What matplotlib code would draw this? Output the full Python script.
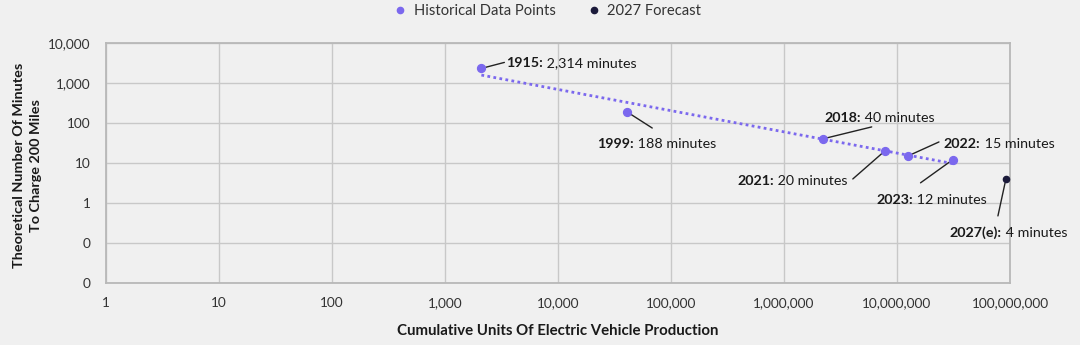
import matplotlib
matplotlib.use('Agg')
import matplotlib.pyplot as plt
import numpy as np
from matplotlib.ticker import FuncFormatter, NullLocator
from matplotlib.lines import Line2D

plt.rcParams['font.family'] = ['Lato', 'DejaVu Sans']

# Historical data (cumulative EV units vs minutes to charge 200 miles)
hist_years = ['1915', '1999', '2018', '2021', '2022', '2023']
hist_units = [2100, 41000, 2.2e6, 7.8e6, 1.25e7, 3.1e7]
hist_minutes = [2314, 188, 40, 20, 15, 12]
hist_labels = ['2,314 minutes', '188 minutes', '40 minutes', '20 minutes',
               '15 minutes', '12 minutes']

# Forecast
fc_year = '2027(e)'
fc_units = [9.2e7]
fc_minutes = [4]
fc_label = '4 minutes'

x_ticks = [1, 10, 100, 1e3, 1e4, 1e5, 1e6, 1e7, 1e8]
y_ticks = [0.01, 0.1, 1, 10, 100, 1e3, 1e4]

BG = '#F0F0F0'
PURPLE = '#7B68EE'
NAVY = '#1B1A3A'
GRID = '#C8C8C8'
TXT = '#1A1A1A'

fig = plt.figure(figsize=(10.8, 3.45), dpi=100)
fig.patch.set_facecolor(BG)
ax = fig.add_axes([0.0981, 0.1797, 0.8371, 0.6957])
ax.set_facecolor(BG)

ax.set_xscale('log')
ax.set_yscale('log')
ax.set_xlim(1, 1e8)
ax.set_ylim(0.01, 10000)
ax.set_xticks(x_ticks)
ax.set_yticks(y_ticks)
ax.xaxis.set_minor_locator(NullLocator())
ax.yaxis.set_minor_locator(NullLocator())
fmt = FuncFormatter(lambda v, p: f"{v:,.0f}")
ax.xaxis.set_major_formatter(fmt)
ax.yaxis.set_major_formatter(fmt)
ax.tick_params(length=0, labelsize=9.8, labelcolor='#333333', pad=11)
ax.tick_params(axis='x', pad=10)
ax.grid(True, color=GRID, lw=1)
ax.set_axisbelow(True)
for s in ax.spines.values():
    s.set_color('#B8B8B8')
    s.set_linewidth(1.3)

# power-law trendline through historical points
lx = np.log10(hist_units)
ly = np.log10(hist_minutes)
slope, icpt = np.polyfit(lx, ly, 1)
tx = np.linspace(lx.min(), lx.max(), 50)
ax.plot(10 ** tx, 10 ** (icpt + slope * tx), color=PURPLE, lw=2,
        linestyle=(0, (1, 1.2)), zorder=3)

ax.scatter(hist_units, hist_minutes, s=32, color=PURPLE, zorder=4)
ax.scatter(fc_units, fc_minutes, s=20, color=NAVY, zorder=4)

# annotation offsets in pixels: (line end), (text left/center-y)
line_off = [(23, 6), (25, -16), (49, 12), (-32, -28), (31, 14), (-32, -23)]
text_off = [(25, 5), (-30, -32), (2, 21), (-147, -30), (36, 12), (-76, -40)]


def label(xy, lo, to, bold, rest):
    ax.annotate('', xy=xy, xytext=lo, textcoords='offset pixels',
                arrowprops=dict(arrowstyle='-', color='#222222', lw=1,
                                shrinkA=0, shrinkB=3))
    t1 = ax.annotate(bold + ':', xy=xy, xytext=to, textcoords='offset pixels',
                     ha='left', va='center', fontsize=10.3, fontweight='bold',
                     color=TXT)
    ax.annotate(' ' + rest, xy=(1, 0.5), xycoords=t1, ha='left', va='center',
                fontsize=10.3, color=TXT)


for i in range(len(hist_years)):
    label((hist_units[i], hist_minutes[i]), line_off[i], text_off[i],
          hist_years[i], hist_labels[i])
label((fc_units[0], fc_minutes[0]), (-8, -37), (-56, -54), fc_year, fc_label)

ax.set_xlabel('Cumulative Units Of Electric Vehicle Production', fontsize=10.8,
              fontweight='bold', color=TXT, labelpad=11)
ax.set_ylabel('Theoretical Number Of Minutes\nTo Charge 200 Miles', fontsize=10.4,
              fontweight='bold', color=TXT, linespacing=1.5)
ax.yaxis.set_label_coords(-0.0705, 0.49)

handles = [
    Line2D([], [], marker='o', ls='none', color=PURPLE, markersize=4.5),
    Line2D([], [], marker='o', ls='none', color=NAVY, markersize=4.5),
]
fig.legend(handles, ['Historical Data Points', '2027 Forecast'], loc='center',
           bbox_to_anchor=(0.503, 0.968), ncol=2, frameon=False, fontsize=10.6,
           handletextpad=-0.1, columnspacing=1.6, labelcolor='#333333')

fig.savefig('out.png', dpi=100, facecolor=BG)
